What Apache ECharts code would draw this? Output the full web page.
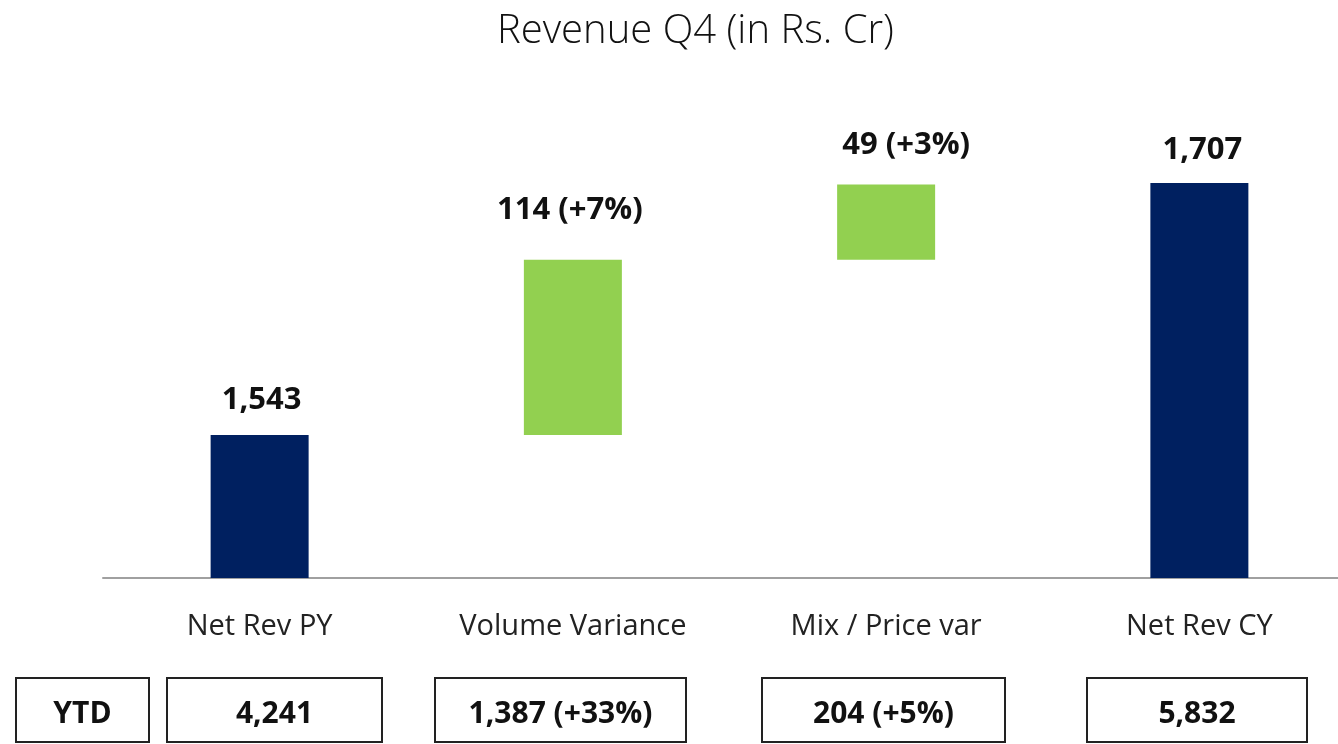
<!DOCTYPE html>
<html>
<head>
<meta charset="utf-8">
<title>Revenue Q4</title>
<script src="https://cdn.jsdelivr.net/npm/echarts@6/dist/echarts.min.js"></script>
<style>
  html, body { margin: 0; padding: 0; background: #fff; }
  #chart { width: 1338px; height: 744px; }
</style>
</head>
<body>
<div id="chart"></div>
<script>
// data
const categories = ['Net Rev PY', 'Volume Variance', 'Mix / Price var', 'Net Rev CY']
const q4Values = [1543, 114, 49, 1707]
const q4Pct = [null, 7, 3, null]
const isTotal = [true, false, false, true]
const ytdHeader = 'YTD'
const ytdValues = [4241, 1387, 204, 5832]
const ytdPct = [null, 33, 5, null]
const yMin = 1450
const yMax = 1800

const NAVY = '#002060'
const GREEN = '#92D050'
const FONT = '"Open Sans", "Noto Sans", sans-serif'

// label placement above each bar (the slide is not consistent)
const labelGap = [19, 34, 24, 17]
const labelShift = [2, -3, 20, 3]
// ytd boxes: [left, width], first one is the "YTD" header
const boxes = [[16, 133], [167, 215], [435, 251], [762, 243], [1087, 220]]

const fmt = (v, pct) => v.toLocaleString('en-US') + (pct != null ? ` (+${pct}%)` : '')

// transparent base for the floating steps
let running = 0
const base = q4Values.map((v, i) => {
  if (isTotal[i]) { running = v; return 0 }
  const b = running
  running += v
  return b
})

const chart = echarts.init(document.getElementById('chart'))

const boxGraphics = boxes.map(([x, w], i) => ({
  type: 'group',
  children: [
    {
      type: 'rect',
      shape: { x: x, y: 678, width: w, height: 64 },
      style: { fill: '#fff', stroke: '#222', lineWidth: 2 },
    },
    {
      type: 'text',
      x: x + w / 2,
      y: 714,
      style: {
        text: i === 0 ? ytdHeader : fmt(ytdValues[i - 1], ytdPct[i - 1]),
        font: `bold 30px ${FONT}`,
        fill: '#111',
        align: 'center',
        verticalAlign: 'middle',
      },
    },
  ],
}))

chart.setOption({
  animation: false,
  backgroundColor: '#fff',
  title: {
    text: 'Revenue Q4 (in Rs. Cr)',
    left: 492,
    top: 7,
    textStyle: { fontFamily: FONT, fontWeight: 300, fontSize: 40, color: '#111' },
  },
  grid: { left: 103, top: 40, width: 1253, bottom: 166, outerBoundsMode: 'none' },
  xAxis: {
    type: 'category',
    data: categories,
    axisLine: { lineStyle: { color: '#a0a0a0', width: 2 } },
    axisTick: { show: false },
    axisLabel: { color: '#222', fontFamily: FONT, fontSize: 29, margin: 34 },
  },
  yAxis: {
    type: 'value',
    min: yMin,
    max: yMax,
    show: false,
    splitLine: { show: false },
  },
  series: [
    {
      type: 'bar',
      stack: 'w',
      barWidth: 98,
      silent: true,
      itemStyle: { color: 'transparent' },
      data: base,
    },
    {
      type: 'bar',
      stack: 'w',
      barWidth: 98,
      clip: true,
      data: q4Values.map((v, i) => ({
        value: v,
        itemStyle: { color: isTotal[i] ? NAVY : GREEN },
        label: { distance: labelGap[i], offset: [labelShift[i], 0] },
      })),
      label: {
        show: true,
        position: 'top',
        fontFamily: FONT,
        fontWeight: 'bold',
        fontSize: 31,
        color: '#111',
        formatter: (p) => fmt(q4Values[p.dataIndex], q4Pct[p.dataIndex]),
      },
    },
  ],
  graphic: boxGraphics,
})
</script>
</body>
</html>
